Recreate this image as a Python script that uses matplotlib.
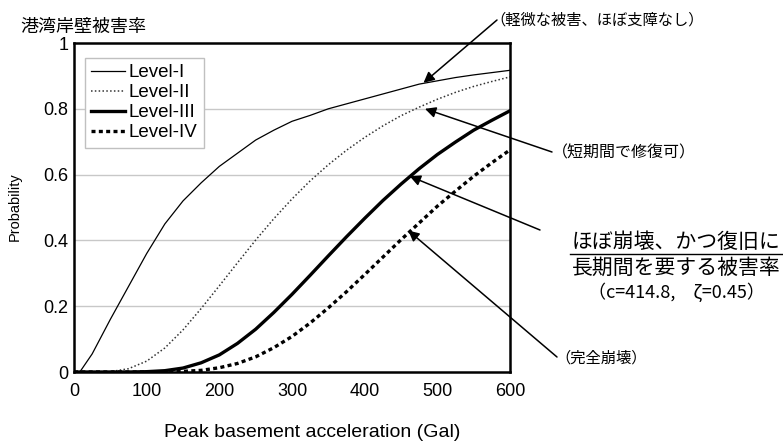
import matplotlib
matplotlib.use('Agg')
import matplotlib.pyplot as plt
from matplotlib.lines import Line2D

plt.rcParams['font.family'] = ['Liberation Sans', 'Noto Sans CJK JP', 'DejaVu Sans']
jp = ['Noto Sans CJK JP', 'DejaVu Sans']

# values (Gal vs probability)
gal = [0, 8, 25, 50, 75, 100, 125, 150, 175, 200, 225, 250, 275, 300,
       325, 350, 375, 400, 425, 450, 475, 500, 525, 550, 575, 600]
level1 = [0.0, 0.0, 0.055, 0.16, 0.26, 0.36, 0.45, 0.52, 0.575, 0.625, 0.665, 0.705, 0.735, 0.762,
          0.78, 0.80, 0.815, 0.83, 0.845, 0.86, 0.875, 0.885, 0.895, 0.903, 0.91, 0.917]
level2 = [0.0, 0.0, 0.0, 0.001, 0.01, 0.033, 0.073, 0.128, 0.193, 0.262, 0.332, 0.401, 0.466, 0.526,
          0.581, 0.63, 0.674, 0.713, 0.748, 0.779, 0.805, 0.829, 0.85, 0.868, 0.883, 0.897]
level3 = [0.0, 0.0, 0.0, 0.0, 0.0, 0.001, 0.004, 0.012, 0.028, 0.052, 0.087, 0.13, 0.181, 0.236,
          0.294, 0.353, 0.411, 0.467, 0.521, 0.571, 0.618, 0.661, 0.699, 0.735, 0.765, 0.794]
level4 = [0.0, 0.0, 0.0, 0.0, 0.0, 0.0, 0.0, 0.002, 0.005, 0.013, 0.026, 0.046, 0.074, 0.108,
          0.149, 0.195, 0.244, 0.296, 0.349, 0.402, 0.453, 0.504, 0.55, 0.595, 0.636, 0.675]
labels = ['Level-I', 'Level-II', 'Level-III', 'Level-IV']

xticks = [0, 100, 200, 300, 400, 500, 600]
yticks = [0, 0.2, 0.4, 0.6, 0.8, 1]
ytick_labels = ['0', '0.2', '0.4', '0.6', '0.8', '1']

fig = plt.figure(figsize=(7.83, 4.44), dpi=100)
ax = fig.add_axes([74/783, 1-372/444, 436/783, 329/444])

for y in yticks[1:-1]:
    ax.axhline(y, color='#c8c8c8', lw=1, zorder=0)

ax.plot(gal, level1, color='black', lw=0.9, label=labels[0])
ax.plot(gal, level2, color='#333333', lw=1.1, linestyle=(0, (1, 1.5)), label=labels[1])
ax.plot(gal, level3, color='black', lw=2.4, label=labels[2])
ax.plot(gal, level4, color='black', lw=2.4, linestyle=(0, (1.2, 1.0)), label=labels[3])

ax.set_xlim(0, 600)
ax.set_ylim(0, 1)
ax.set_xticks(xticks)
ax.set_yticks(yticks)
ax.set_yticklabels(ytick_labels)
ax.tick_params(axis='both', length=0, labelsize=13)
ax.tick_params(axis='x', pad=8)
ax.tick_params(axis='y', pad=4)
for s in ax.spines.values():
    s.set_linewidth(1.8)

leg = ax.legend(loc='upper left', bbox_to_anchor=(0.025, 0.955), borderaxespad=0,
                fontsize=13.5, handlelength=1.8, handletextpad=0.2, labelspacing=0.15,
                borderpad=0.35, fancybox=False, edgecolor='#c0c0c0', framealpha=1)
leg.get_frame().set_linewidth(1)

fig.text(20/783, 1-27/444, '港湾岸壁被害率', family=jp, fontsize=13, ha='left', va='center')
fig.text(15/783, 1-207/444, 'Probability', fontsize=10.5, rotation=90, ha='center', va='center')
fig.text(312/783, 1-432/444, 'Peak basement acceleration (Gal)', fontsize=14, ha='center', va='center')

H = 444
arrow = dict(arrowstyle='-|>', color='black', lw=1.1, mutation_scale=16, shrinkA=0, shrinkB=0)
ax.annotate('', xy=(481, 0.879), xytext=(497, H-20), textcoords='figure pixels', arrowprops=arrow)
ax.annotate('', xy=(483, 0.80), xytext=(552, H-152), textcoords='figure pixels', arrowprops=arrow)
ax.annotate('', xy=(462, 0.595), xytext=(540, H-230), textcoords='figure pixels', arrowprops=arrow)
ax.annotate('', xy=(460, 0.43), xytext=(557, H-357), textcoords='figure pixels', arrowprops=arrow)

fig.text(490/783, 1-20/444, '（軽微な被害、ほぼ支障なし）', family=jp, fontsize=11, ha='left', va='center')
fig.text(552/783, 1-153/444, '（短期間で修復可）', family=jp, fontsize=11.5, ha='left', va='center')
fig.text(676/783, 1-242/444, 'ほぼ崩壊、かつ復旧に', family=jp, fontsize=15, ha='center', va='center')
fig.text(676/783, 1-268/444, '長期間を要する被害率', family=jp, fontsize=15, ha='center', va='center')
fig.text(676/783, 1-292/444, '（c=414.8,　ζ=0.45）', family=jp, fontsize=13, ha='center', va='center')
fig.text(555/783, 1-358/444, '（完全崩壊）', family=jp, fontsize=11, ha='left', va='center')
fig.add_artist(Line2D([570/783, 782/783], [1-254/444, 1-254/444], color='black', lw=1))

fig.savefig('out.png', dpi=100)
